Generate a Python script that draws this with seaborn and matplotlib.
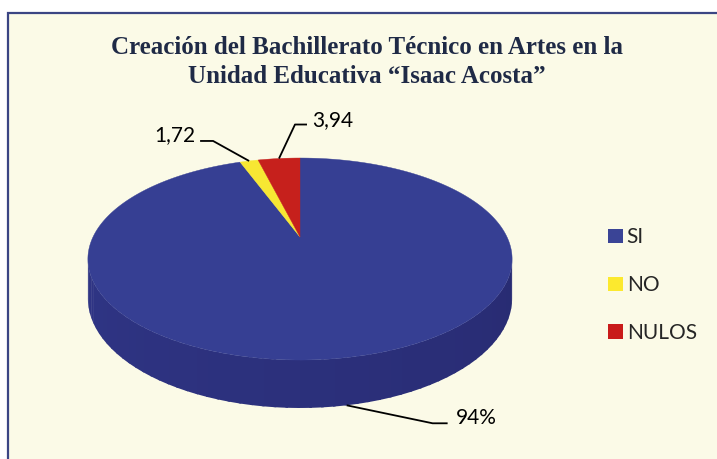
import numpy as np
import matplotlib
matplotlib.use("Agg")
import matplotlib.pyplot as plt
import seaborn as sns
from matplotlib.patches import Patch, Rectangle

# ---- data ----
categories = ["SI", "NO", "NULOS"]
values = [94.34, 1.72, 3.94]
value_labels = ["94%", "1,72", "3,94"]
title_text = "Creación del Bachillerato Técnico en Artes en la\nUnidad Educativa \u201cIsaac Acosta\u201d"

# ---- style ----
sns.set_theme(style="white")
plt.rcParams['font.family'] = ['Lato', 'DejaVu Sans']
top_colors = ["#363F93", "#F7E733", "#C6201C"]
legend_colors = ["#3A4496", "#FCE92E", "#C91B1A"]
bg = "#FBFAE7"

W, H = 717, 459
fig = plt.figure(figsize=(W / 100, H / 100), dpi=100)
ax = fig.add_axes([0, 0, 1, 1])
ax.set_xlim(0, W)
ax.set_ylim(H, 0)
ax.axis("off")
fig.patch.set_facecolor("white")

ax.add_patch(Rectangle((8.0, 13.0), W + 10, H + 10, facecolor=bg,
                       edgecolor="#3B4583", lw=1.6, zorder=0))

# ---- 3D perspective pie geometry (pixel space) ----
X0, Y0, A, B, K, D = 300.0, 237.0, 207.0, 96.2, 0.218, 37.5


def proj(theta, depth=0.0):
    u = np.sin(theta)
    v = -np.cos(theta)
    w = 1 - K * v
    return X0 + A * u / w, Y0 + (B * v + depth * D) / w


fr = np.array(values) / np.sum(values)
starts = np.concatenate([[0], np.cumsum(fr)[:-1]]) * 2 * np.pi
ends = np.cumsum(fr) * 2 * np.pi

# side (visible front rim), drawn in strips for slight shading
t_left = np.arccos(-K)
t_right = 2 * np.pi - np.arccos(-K)
n_strips = 60
edges = np.linspace(t_left, t_right, n_strips + 1)
c_light = np.array(matplotlib.colors.to_rgb("#2F3585"))
c_dark = np.array(matplotlib.colors.to_rgb("#282B72"))
for i in range(n_strips):
    t = np.linspace(edges[i], edges[i + 1] + 0.01, 6)
    xt, yt = proj(t, 0)
    xb, yb = proj(t[::-1], 1)
    s = i / (n_strips - 1)
    col = c_dark * (1 - s) + c_light * s
    ax.fill(np.concatenate([xt, xb]), np.concatenate([yt, yb]),
            color=col, lw=0, zorder=1)

# top faces
for s0, s1, col in zip(starts, ends, top_colors):
    t = np.linspace(s0, s1, max(4, int((s1 - s0) * 120)))
    xr, yr = proj(t, 0)
    ax.fill(np.concatenate([[X0], xr]), np.concatenate([[Y0], yr]),
            color=col, lw=0.3, ec=col, zorder=2)

# ---- data labels with leader lines ----
mids = (starts + ends) / 2
# (elbow dx, elbow dy, horizontal length, text gap, text dy, anchor depth)
lab_style = {
    "SI": (86, 18, 15, 8, -5, 1),
    "NO": (-36, -20, -13, -5, -6, 0),
    "NULOS": (16, -34, 12, 5, -4, 0),
}
for cat, m, lab in zip(categories, mids, value_labels):
    dx, dy, hl, gap, tdy, dep = lab_style[cat]
    axp, ayp = proj(m, dep)
    ex, ey = axp + dx, ayp + dy
    hx = ex + hl
    ax.plot([axp, ex, hx], [ayp, ey, ey], color="black", lw=1.3, zorder=3,
            solid_capstyle="butt")
    ax.text(hx + gap, ey + tdy, lab, fontsize=15, color="black",
            ha="left" if hl > 0 else "right", va="center", zorder=4)

# ---- title ----
ax.text(367, 62, title_text, fontsize=18, fontweight="bold",
        family=["Liberation Serif", "DejaVu Serif"], color="#1F2A46",
        ha="center", va="center", linespacing=1.3)

# ---- legend ----
handles = [Patch(facecolor=c, edgecolor="none") for c in legend_colors]
leg = ax.legend(handles, categories, loc="upper left",
                bbox_to_anchor=(600 / W, 1 - 219 / H), frameon=False,
                fontsize=15, handlelength=0.68, handleheight=0.68,
                handletextpad=0.2, labelspacing=1.33, borderaxespad=0)

fig.savefig("out.png", dpi=100, facecolor="white")
